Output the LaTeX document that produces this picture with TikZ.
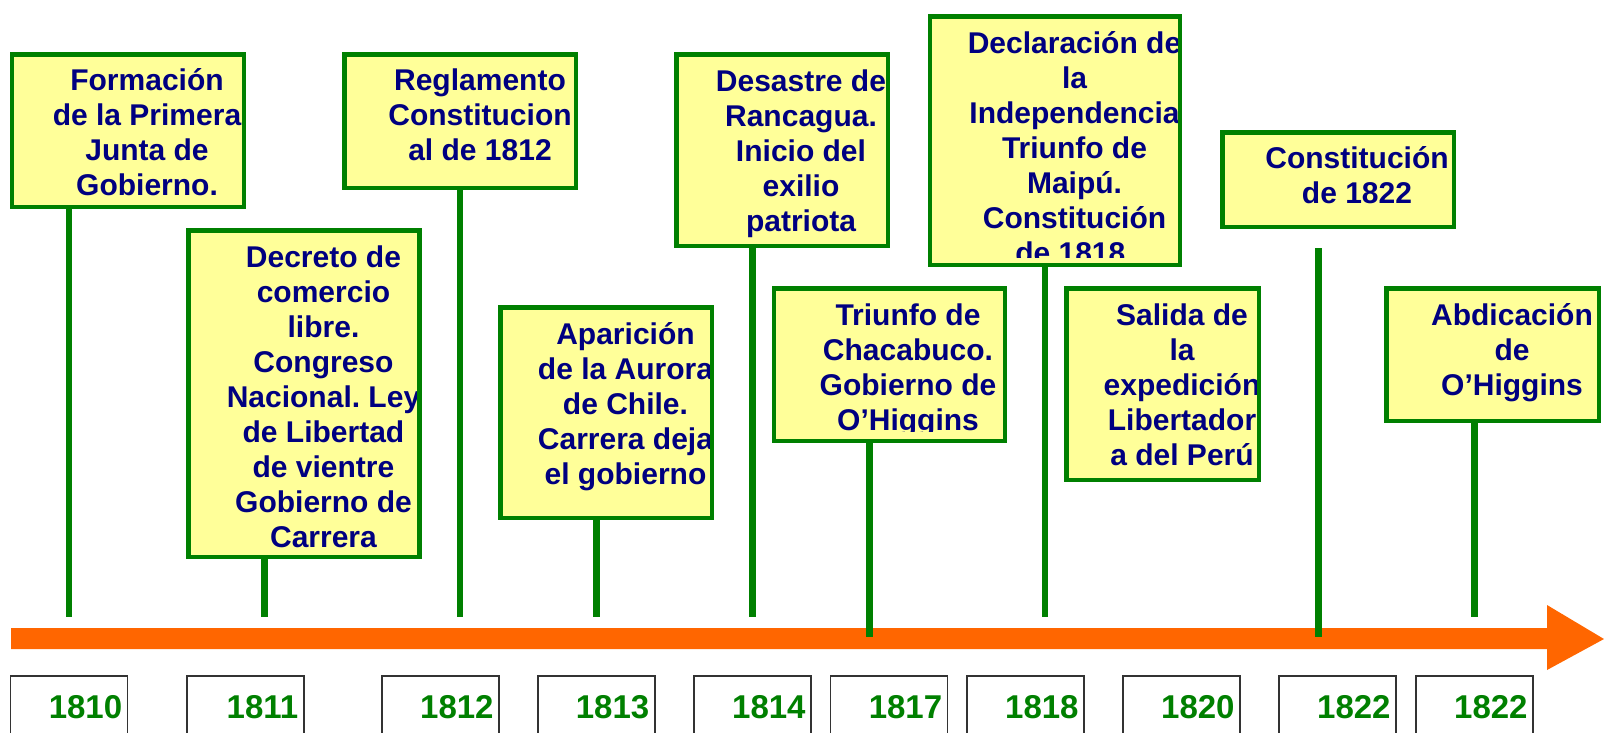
\documentclass[tikz,border=0pt]{standalone}
\usepackage{fontspec}
\setmainfont{Liberation Sans}
\frenchspacing
\definecolor{evgreen}{HTML}{008000}
\definecolor{evyellow}{HTML}{FFFF99}
\definecolor{evnavy}{HTML}{000080}
\definecolor{evorange}{HTML}{FF6600}
\definecolor{evgray}{HTML}{333333}
\newcommand\evstrut{\rule{0pt}{30pt}}
\tikzset{
 evbox/.style={fill=evyellow, rectangle, inner sep=0pt, outer sep=0pt},
 evborder/.style={draw=evgreen, line width=4.5pt},
 evtext/.style={font=\fontsize{30}{35}\selectfont\bfseries\frenchspacing, text=evnavy, align=center, inner sep=0pt, anchor=north},
 evstem/.style={draw=evgreen, line width=6.5pt},
 yearbox/.style={draw=evgray, line width=1.5pt, text width=106pt, align=right, inner xsep=5.5pt, inner ysep=18pt, text height=24pt, text depth=40pt, anchor=base, font=\fontsize{33}{38}\selectfont\bfseries, text=evgreen},
}
\begin{document}
\begin{tikzpicture}[x=1pt,y=-1pt]
\useasboundingbox (0,0) rectangle (1604,732);
\clip (0,0) rectangle (1604,732);
% timeline arrow
\fill[evorange] (11,628) -- (1547,628) -- (1547,605) -- (1604,639) -- (1547,670) -- (1547,649) -- (11,649) -- cycle;
% box fills
\node[evbox, minimum width=231.9pt, minimum height=152.5pt] (b1) at (127.8,130.5) {};
\node[evbox, minimum width=231.5pt, minimum height=133.5pt] (b2) at (460,121) {};
\node[evbox, minimum width=231pt, minimum height=326.5pt] (b3) at (303.75,393.5) {};
\node[evbox, minimum width=211.5pt, minimum height=210.5pt] (b4) at (606,412.5) {};
\node[evbox, minimum width=211.5pt, minimum height=191.5pt] (b5) at (782,150) {};
\node[evbox, minimum width=231pt, minimum height=152.5pt] (b6) at (889.25,364.5) {};
\node[evbox, minimum width=250pt, minimum height=248.5pt] (b7) at (1054.75,140.5) {};
\node[evbox, minimum width=192.5pt, minimum height=191.5pt] (b8) at (1162.5,384) {};
\node[evbox, minimum width=231.5pt, minimum height=94.5pt] (b9) at (1338,179.5) {};
\node[evbox, minimum width=212.5pt, minimum height=132.5pt] (b10) at (1492.5,354.5) {};
% stems
\coordinate (e1) at (69,617);
\coordinate (e2) at (460,617);
\coordinate (e3) at (264.5,617);
\coordinate (e4) at (596.4,617);
\coordinate (e5) at (752.4,617);
\coordinate (e6) at (869.5,637);
\coordinate (e7) at (1045,617);
\coordinate (s9a) at (1318.5,248);
\coordinate (s9b) at (1318.5,637);
\coordinate (e10) at (1474.5,617);
\draw[evstem] (b1.south -| e1) -- (e1);
\draw[evstem] (b2.south -| e2) -- (e2);
\draw[evstem] (b3.south -| e3) -- (e3);
\draw[evstem] (b4.south -| e4) -- (e4);
\draw[evstem] (b5.south -| e5) -- (e5);
\draw[evstem] (b6.south -| e6) -- (e6);
\draw[evstem] (b7.south -| e7) -- (e7);
\draw[evstem] (s9a) -- (s9b);
\draw[evstem] (b10.south -| e10) -- (e10);
% texts
\node[evtext] (t1) at (147,60.5) {\evstrut Formación\\de la Primera\\Junta de\\Gobierno.};
\node[evtext] (t2) at (480,60.5) {\evstrut Reglamento\\Constitucion\\al de 1812};
\node[evtext] (t3) at (323.5,237.5) {\evstrut Decreto de\\comercio\\libre.\\Congreso\\Nacional. Ley\\de Libertad\\de vientre\\Gobierno de\\Carrera};
\node[evtext] (t4) at (625.5,314.5) {\evstrut Aparición\\de la Aurora\\de Chile.\\Carrera deja\\el gobierno};
\node[evtext] (t5) at (801,61.5) {\evstrut Desastre de\\Rancagua.\\Inicio del\\exilio\\patriota};
\begin{scope}
\clip (760,280) rectangle (1010,431.5);
\node[evtext] (t6) at (908,295.5) {\evstrut Triunfo de\\Chacabuco.\\Gobierno de\\O’Higgins};
\end{scope}
\begin{scope}
\clip (920,10) rectangle (1190,257);
\node[evtext] (t7) at (1074.5,23) {\evstrut Declaración de\\la\\Independencia\\Triunfo de\\Maipú.\\Constitución\\de 1818.};
\end{scope}
\node[evtext] (t8) at (1182,295) {\evstrut Salida de\\la\\expedición\\Libertador\\a del Perú};
\node[evtext] (t9) at (1357,138) {\evstrut Constitución\\de 1822};
\node[evtext] (t10) at (1512,295) {\evstrut Abdicación\\de\\O’Higgins};
% borders
\foreach \b in {b1,b2,b3,b4,b5,b6,b7,b8,b9,b10}
  \draw[evborder] (\b.north west) rectangle (\b.south east);
% years
\node[yearbox] (y1) at (69.2,718) {1810};
\node[yearbox] (y2) at (245.3,718) {1811};
\node[yearbox] (y3) at (440.6,718) {1812};
\node[yearbox] (y4) at (596.3,718) {1813};
\node[yearbox] (y5) at (752.6,718) {1814};
\node[yearbox] (y6) at (889.2,718) {1817};
\node[yearbox] (y7) at (1025.6,718) {1818};
\node[yearbox] (y8) at (1181.6,718) {1820};
\node[yearbox] (y9) at (1337.6,718) {1822};
\node[yearbox] (y10) at (1474.6,718) {1822};
\end{tikzpicture}
\end{document}
